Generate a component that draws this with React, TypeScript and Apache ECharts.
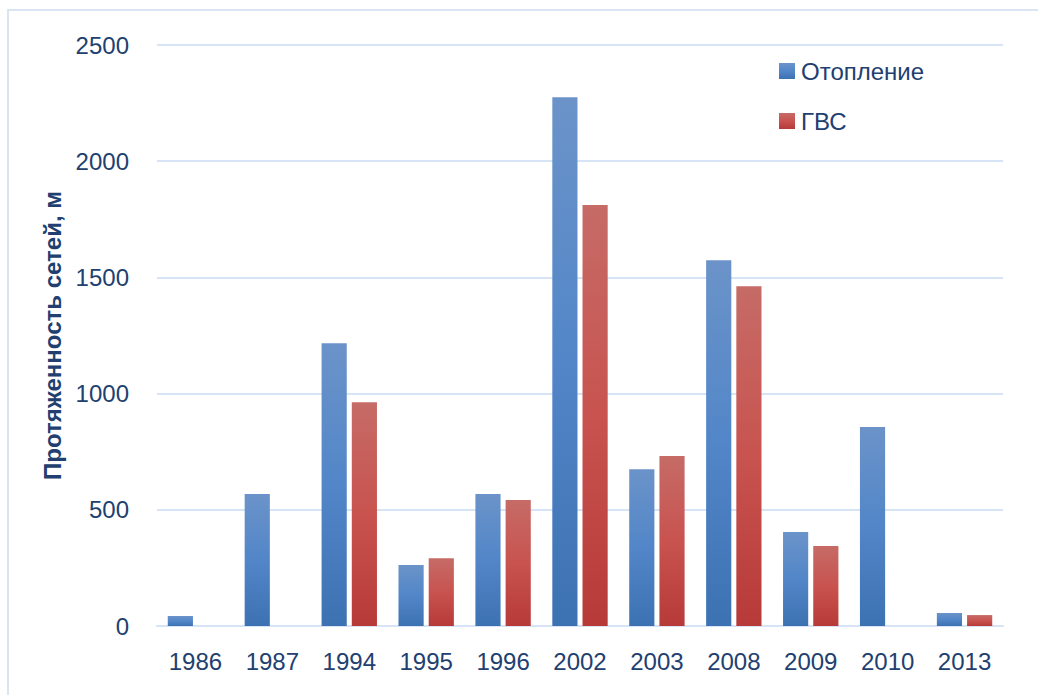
import React, { useEffect, useRef } from "react";
import * as echarts from "echarts";

const categories = ["1986", "1987", "1994", "1995", "1996", "2002", "2003", "2008", "2009", "2010", "2013"];
const heating = [43, 568, 1217, 262, 568, 2275, 675, 1574, 404, 856, 56];
const hotWater = [0, 0, 963, 292, 542, 1811, 731, 1462, 344, 0, 47];
const seriesNames = ["Отопление", "ГВС"];
const yTicks = { min: 0, max: 2500, interval: 500 };
const axisTitle = "Протяженность сетей, м";

const FONT = "'Liberation Sans Narrow', 'Arial Narrow', 'Liberation Sans', Arial, sans-serif";
const TEXT = "#21406f";

export default function App() {
  const ref = useRef<HTMLDivElement>(null);
  useEffect(() => {
    if (!ref.current) return;
    const chart = echarts.init(ref.current, undefined, { renderer: "svg" });
    const blue = new echarts.graphic.LinearGradient(0, 0, 0, 1, [
      { offset: 0, color: "#6b93c9" },
      { offset: 0.5, color: "#5286c8" },
      { offset: 1, color: "#3c71b2" },
    ]);
    const red = new echarts.graphic.LinearGradient(0, 0, 0, 1, [
      { offset: 0, color: "#c66b67" },
      { offset: 0.5, color: "#c8534f" },
      { offset: 1, color: "#b73a38" },
    ]);
    chart.setOption({
      animation: false,
      backgroundColor: "#ffffff",
      textStyle: { fontFamily: FONT },
      graphic: [
        {
          type: "rect",
          shape: { x: 8, y: 10, width: 1040, height: 700 },
          style: { fill: "none", stroke: "#dae5f4", lineWidth: 2 },
          silent: true,
          z: -1,
        },
      ],
      grid: { left: 157, right: 35, top: 45, bottom: 69 },
      legend: {
        orient: "vertical",
        left: 779,
        top: 59,
        padding: 0,
        itemWidth: 16,
        itemHeight: 16,
        itemGap: 26,
        icon: "rect",
        textStyle: { fontFamily: FONT, fontSize: 24, color: TEXT, padding: [0, 0, 0, 1] },
        data: seriesNames,
      },
      xAxis: {
        type: "category",
        data: categories,
        axisLine: { show: true, lineStyle: { color: "#d6e4f5", width: 2 } },
        axisTick: { show: false },
        axisLabel: { fontFamily: FONT, fontSize: 24, color: TEXT, margin: 23, interval: 0 },
      },
      yAxis: {
        type: "value",
        min: yTicks.min,
        max: yTicks.max,
        interval: yTicks.interval,
        name: axisTitle,
        nameLocation: "middle",
        nameGap: 80,
        nameTextStyle: { fontFamily: FONT, fontSize: 24, fontWeight: "bold", color: TEXT },
        axisLine: { show: false },
        axisTick: { show: false },
        splitLine: { lineStyle: { color: "#d6e4f5", width: 2 } },
        axisLabel: {
          fontFamily: FONT,
          fontSize: 24,
          color: TEXT,
          margin: 28,
          formatter: (v: number) => String(v),
        },
      },
      series: [
        {
          name: seriesNames[0],
          type: "bar",
          data: heating,
          itemStyle: { color: blue },
          barGap: "20%",
          barCategoryGap: "28%",
        },
        {
          name: seriesNames[1],
          type: "bar",
          data: hotWater,
          itemStyle: { color: red },
        },
      ],
    });
    return () => chart.dispose();
  }, []);
  return (
    <div
      ref={ref}
      style={{ position: "fixed", left: 0, top: 0, width: 1038, height: 695 }}
    />
  );
}
